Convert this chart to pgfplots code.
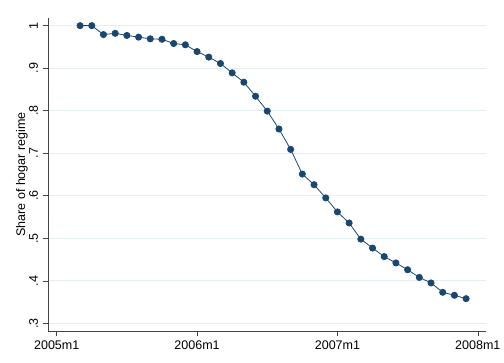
\documentclass[border=0pt]{standalone}
\usepackage{fontspec}
\setmainfont{Liberation Sans}
\usepackage{pgfplots}
\pgfplotsset{compat=1.18}
\definecolor{navy}{HTML}{1A476F}
\definecolor{gridc}{HTML}{E4EDF0}
\definecolor{axc}{HTML}{444444}
\begin{document}
\begin{tikzpicture}
\begin{axis}[
  scale only axis, width=437.5pt, height=313pt,
  xmin=-0.7, xmax=36.7, ymin=0.282, ymax=1.018,
  axis x line*=bottom, axis y line*=left,
  axis line style={axc, line width=0.7pt},
  xtick={0,12,24,36}, xticklabels={2005m1,2006m1,2007m1,2008m1},
  ytick={0.3,0.4,0.5,0.6,0.7,0.8,0.9,1.0},
  yticklabels={.3,.4,.5,.6,.7,.8,.9,1},
  tick align=outside, major tick length=5pt,
  tick style={axc, line width=0.6pt},
  ymajorgrids, grid style={gridc, line width=0.8pt},
  ticklabel style={font=\fontsize{12.5}{15}\selectfont, text=black},
  yticklabel style={rotate=90, anchor=base},
  yticklabel shift=5.5pt,
  xticklabel style={anchor=north},
  xticklabel shift=1pt,
  /pgf/number format/assume math mode=true,
  ylabel={Share of hogar regime},
  ylabel style={font=\fontsize{12.5}{15}\selectfont, at={(axis description cs:-0.0537,0.5)}, anchor=base, rotate=0},
]
\addplot[navy, line width=0.8pt, mark=*, mark size=3.1pt, mark options={fill=navy, draw=navy}] coordinates {
(2,1.000) (3,1.000) (4,0.979) (5,0.982) (6,0.977) (7,0.973) (8,0.969) (9,0.968)
(10,0.958) (11,0.955) (12,0.939) (13,0.926) (14,0.911) (15,0.889) (16,0.867)
(17,0.834) (18,0.799) (19,0.757) (20,0.709) (21,0.651) (22,0.626) (23,0.595)
(24,0.562) (25,0.536) (26,0.498) (27,0.477) (28,0.457) (29,0.442) (30,0.426)
(31,0.408) (32,0.395) (33,0.373) (34,0.366) (35,0.358)
};
\end{axis}
\pgfresetboundingbox
\path (current axis.south west) ++(-48.5pt,-31pt) rectangle ++(504pt,362pt);
\end{tikzpicture}
\end{document}
